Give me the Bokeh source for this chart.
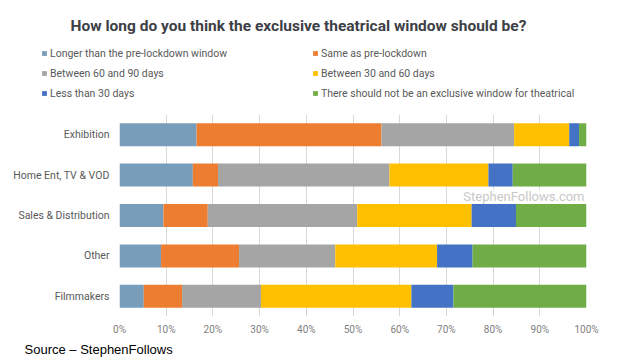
from bokeh.plotting import figure
from bokeh.models import ColumnDataSource, FactorRange, Range1d, Legend, LegendItem, Label, Title, PrintfTickFormatter, FixedTicker
from bokeh.layouts import column
from bokeh.embed import file_html
from bokeh.resources import INLINE

categories = ["Exhibition", "Home Ent, TV & VOD", "Sales & Distribution", "Other", "Filmmakers"]
series = ["Longer than the pre-lockdown window", "Same as pre-lockdown",
          "Between 60 and 90 days", "Between 30 and 60 days",
          "Less than 30 days", "There should not be an exclusive window for theatrical"]
longer = [16.5, 15.7, 9.4, 8.9, 5.2]
same = [39.6, 5.4, 9.5, 16.7, 8.2]
d60_90 = [28.4, 36.7, 32.0, 20.6, 16.9]
d30_60 = [11.8, 21.2, 24.5, 21.8, 32.2]
lt30 = [2.1, 5.2, 9.5, 7.6, 9.0]
none_ = [1.6, 15.8, 15.1, 24.4, 28.5]
ticks = [0, 10, 20, 30, 40, 50, 60, 70, 80, 90, 100]
colors = ["#789DBA", "#ED7D31", "#A5A5A5", "#FFC000", "#4472C4", "#70AD47"]

keys = ["s0", "s1", "s2", "s3", "s4", "s5"]
source = ColumnDataSource(data=dict(cat=categories, s0=longer, s1=same, s2=d60_90,
                                    s3=d30_60, s4=lt30, s5=none_))

FONT = "Roboto"

# ---- header: title + legend (its bars map to no factor in its range; only the legend shows) ----
HW, HH = 624, 106
head = figure(width=HW, height=HH, output_backend="svg", toolbar_location=None,
              x_range=Range1d(0, 100), y_range=FactorRange("legend"),
              x_axis_location=None, y_axis_location=None,
              min_border_left=0, min_border_right=0, min_border_top=0, min_border_bottom=0)
head.frame_align = False
head.outline_line_color = None
head.xgrid.visible = False
head.ygrid.visible = False

legend_renderers = head.hbar_stack(keys, y="cat", height=0.57, color=colors, source=source, line_width=0)
items = [LegendItem(label=s, renderers=[r]) for s, r in zip(series, legend_renderers)]
legend = Legend(items=items, orientation="horizontal", ncols=2, location=(41, 3),
                glyph_width=6, glyph_height=6, label_standoff=3, label_width=262,
                label_height=20, spacing=0, padding=0, margin=0,
                label_text_font=FONT, label_text_font_size="10.5px", label_text_color="#595959",
                border_line_color=None, background_fill_alpha=0)
head.add_layout(legend, "center")
head.add_layout(Label(x=70, y=HH - 25, x_units="screen", y_units="screen",
                      text="How long do you think the exclusive theatrical window should be?",
                      text_align="left", text_baseline="middle", text_font=FONT,
                      text_font_size="15.5px", text_font_style="bold", text_color="#3d4046"))

# ---- main chart ----
p = figure(width=624, height=256, output_backend="svg", toolbar_location=None,
           y_range=FactorRange(*list(reversed(categories))), x_range=Range1d(0, 100),
           min_border_left=119, min_border_right=38, min_border_top=8, min_border_bottom=46)
p.frame_align = False
p.outline_line_color = None

renderers = p.hbar_stack(keys, y="cat", height=0.57, color=colors, source=source, line_width=0)

p.xaxis.ticker = FixedTicker(ticks=ticks)
p.xaxis.formatter = PrintfTickFormatter(format="%d%%")
p.xaxis.axis_line_color = None
p.xaxis.major_tick_line_color = None
p.xaxis.minor_tick_line_color = None
p.xaxis.major_tick_in = 0
p.xaxis.major_tick_out = 0
p.xaxis.major_label_standoff = 7
p.xaxis.major_label_text_font = FONT
p.xaxis.major_label_text_font_size = "10px"
p.xaxis.major_label_text_color = "#7f7f7f"

p.yaxis.axis_line_color = None
p.yaxis.major_tick_line_color = None
p.yaxis.minor_tick_line_color = None
p.yaxis.major_tick_in = 0
p.yaxis.major_tick_out = 0
p.yaxis.major_label_standoff = 10
p.yaxis.major_label_text_font = FONT
p.yaxis.major_label_text_font_size = "10.5px"
p.yaxis.major_label_text_color = "#595959"

p.xgrid.grid_line_color = "#d9d9d9"
p.ygrid.grid_line_color = None

p.add_layout(Label(x=465, y=120, x_units="screen", y_units="screen",
                   text="StephenFollows.com", text_align="right", text_baseline="middle",
                   text_font=FONT, text_font_size="13px", text_color="#c8c8c8",
                   background_fill_color="white", background_fill_alpha=0.7))
p.add_layout(Title(text="Source \u2013 StephenFollows", align="left", offset=-95,
                   text_font="Liberation Sans", text_font_size="13px", text_font_style="normal",
                   text_color="#000000", standoff=4), "below")

layout = column(head, p, spacing=0)
open("out.html", "w").write(file_html(layout, INLINE))
